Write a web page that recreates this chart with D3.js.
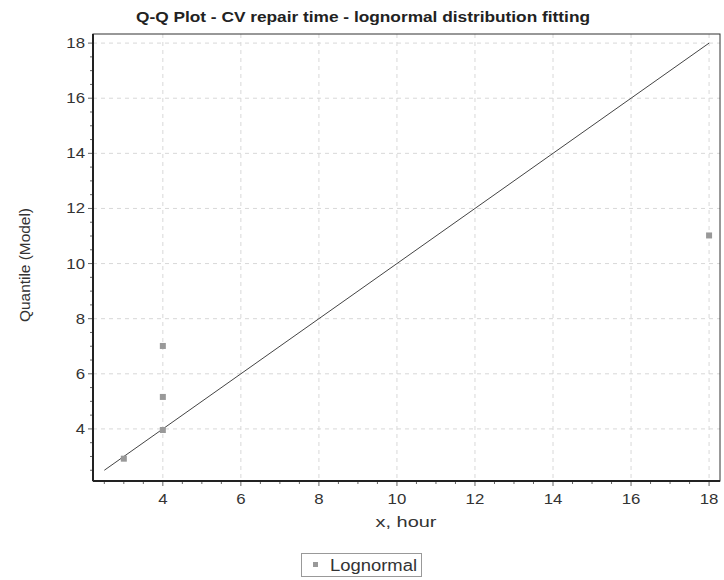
<!DOCTYPE html>
<html><head><meta charset="utf-8">
<script src="https://cdn.jsdelivr.net/npm/d3@7"></script>
<style>body{margin:0;background:#fff;font-family:"Liberation Sans",Arial,sans-serif}</style>
</head><body>
<svg id="c" width="724" height="580"></svg>
<script>
const title = "Q-Q Plot - CV repair time - lognormal distribution fitting";
const xLabel = "x, hour";
const yLabel = "Quantile (Model)";
const seriesName = "Lognormal";
const xObs = [3, 4, 4, 4, 18];
const yModel = [2.92, 3.96, 5.16, 7.01, 11.02];
const refLine = [2.5, 18];
const xTicks = [4, 6, 8, 10, 12, 14, 16, 18];
const yTicks = [4, 6, 8, 10, 12, 14, 16, 18];

const svg = d3.select("#c");
const m = {l: 93, t: 34, r: 720, b: 481};
const x = d3.scaleLinear().domain([2.21, 18.28]).range([m.l, m.r]);
const y = d3.scaleLinear().domain([2.11, 18.33]).range([m.b, m.t]);

function stretch(sel, f) {
  sel.each(function() {
    const w = this.getComputedTextLength();
    d3.select(this).attr("textLength", w * f).attr("lengthAdjust", "spacingAndGlyphs");
  });
}

// grid
const g = svg.append("g");
g.selectAll(".gx").data(xTicks).join("line")
  .attr("x1", d => x(d)).attr("x2", d => x(d)).attr("y1", m.t).attr("y2", m.b)
  .attr("stroke", "#d8d8d8").attr("stroke-dasharray", "4,4");
g.selectAll(".gy").data(yTicks).join("line")
  .attr("y1", d => y(d)).attr("y2", d => y(d)).attr("x1", m.l).attr("x2", m.r)
  .attr("stroke", "#d8d8d8").attr("stroke-dasharray", "4,4");

// border
svg.append("rect").attr("x", m.l).attr("y", m.t).attr("width", m.r - m.l).attr("height", m.b - m.t)
  .attr("fill", "none").attr("stroke", "#333").attr("stroke-width", 1);

// minor ticks
const xMinor = d3.range(2.5, 18.3, 0.5);
const yMinor = d3.range(2.5, 18.3, 0.5);
svg.append("g").selectAll("line").data(xMinor).join("line")
  .attr("x1", d => x(d)).attr("x2", d => x(d)).attr("y1", m.b).attr("y2", d => m.b + (xTicks.includes(d) ? 5 : 3))
  .attr("stroke", "#666");
svg.append("g").selectAll("line").data(yMinor).join("line")
  .attr("y1", d => y(d)).attr("y2", d => y(d)).attr("x1", m.l).attr("x2", d => m.l - (yTicks.includes(d) ? 5 : 3))
  .attr("stroke", "#666");

// axis lines thick
svg.append("line").attr("x1", m.l).attr("x2", m.r).attr("y1", m.b).attr("y2", m.b).attr("stroke", "#222").attr("stroke-width", 2);
svg.append("line").attr("x1", m.l).attr("x2", m.l).attr("y1", m.t).attr("y2", m.b).attr("stroke", "#222").attr("stroke-width", 2);

// tick labels
svg.append("g").selectAll("text").data(xTicks).join("text")
  .attr("x", d => x(d)).attr("y", 504).attr("text-anchor", "middle")
  .attr("font-size", 15).attr("fill", "#333").text(d => d).call(stretch, 1.12);
svg.append("g").selectAll("text").data(yTicks).join("text")
  .attr("x", m.l - 8).attr("y", d => y(d) + 5).attr("text-anchor", "end")
  .attr("font-size", 15).attr("fill", "#333").text(d => d).call(stretch, 1.12);

// reference line
svg.append("line").attr("x1", x(refLine[0])).attr("y1", y(refLine[0]))
  .attr("x2", x(refLine[1])).attr("y2", y(refLine[1])).attr("stroke", "#444").attr("stroke-width", 1);

// points
svg.append("g").selectAll("rect").data(xObs.map((v, i) => [v, yModel[i]])).join("rect")
  .attr("x", d => x(d[0]) - 3).attr("y", d => y(d[1]) - 3).attr("width", 6).attr("height", 6)
  .attr("fill", "#999");

// title & labels
svg.append("text").attr("x", 363).attr("y", 22).attr("text-anchor", "middle")
  .attr("font-size", 14).attr("font-weight", "bold").attr("fill", "#222").text(title)
  .attr("textLength", 454).attr("lengthAdjust", "spacingAndGlyphs");
svg.append("text").attr("x", 406).attr("y", 527).attr("text-anchor", "middle")
  .attr("font-size", 15).attr("fill", "#333").text(xLabel)
  .attr("textLength", 61).attr("lengthAdjust", "spacingAndGlyphs");
svg.append("text").attr("transform", "translate(30,265) rotate(-90)").attr("text-anchor", "middle")
  .attr("font-size", 15).attr("fill", "#333").text(yLabel)
  .attr("textLength", 114).attr("lengthAdjust", "spacingAndGlyphs");

// legend
svg.append("rect").attr("x", 301.5).attr("y", 553.5).attr("width", 120).attr("height", 23)
  .attr("fill", "#fff").attr("stroke", "#999");
svg.append("rect").attr("x", 313).attr("y", 562).attr("width", 5).attr("height", 5).attr("fill", "#999");
svg.append("text").attr("x", 330).attr("y", 571).attr("font-size", 16).attr("fill", "#333").text(seriesName)
  .attr("textLength", 87).attr("lengthAdjust", "spacingAndGlyphs");
</script>
</body></html>
